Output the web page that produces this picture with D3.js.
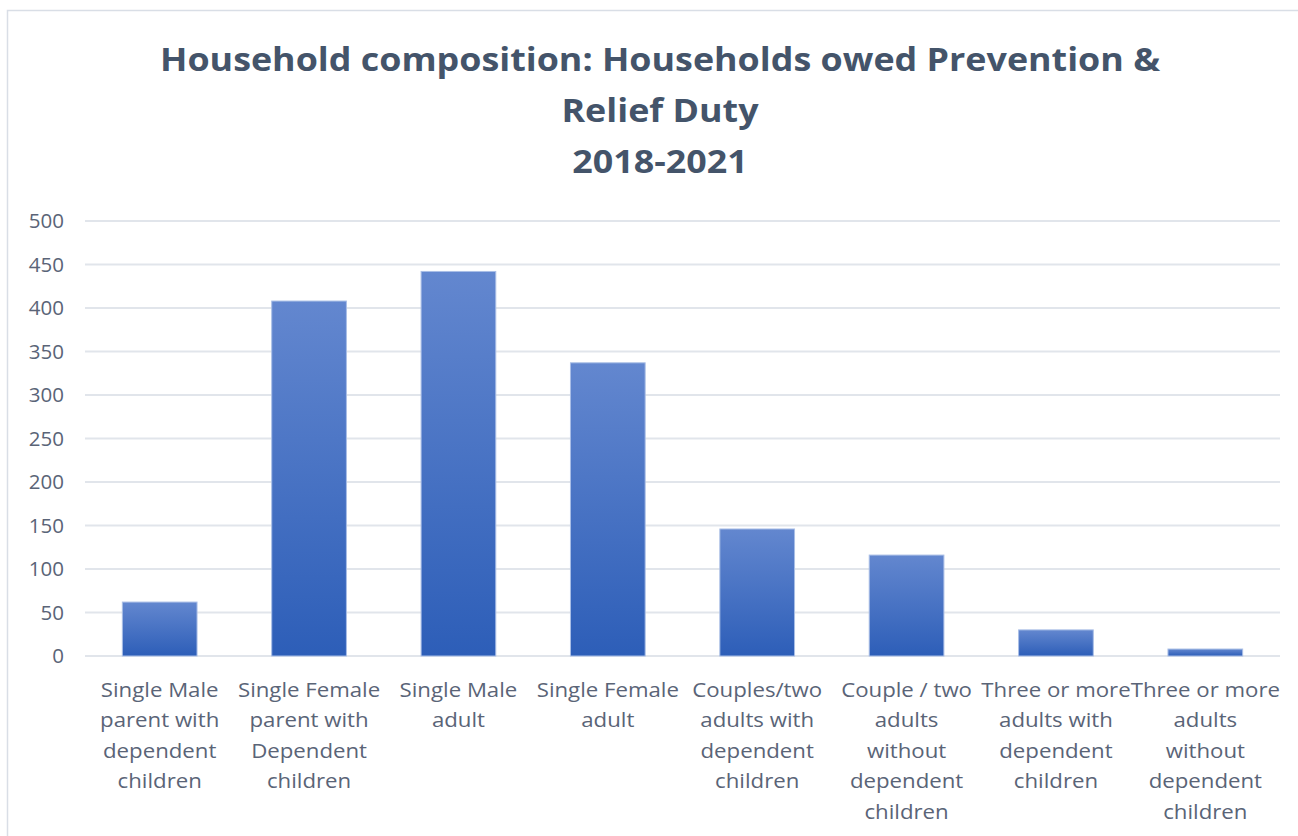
<!DOCTYPE html>
<html>
<head>
<meta charset="utf-8">
<script src="https://cdn.jsdelivr.net/npm/d3@7"></script>
<style>
  html, body { margin: 0; padding: 0; background: #ffffff; }
  svg { display: block; }
</style>
</head>
<body>
<svg id="chart" width="1298" height="836"></svg>
<script>
// Household composition counts, 2018-2021
const categories = [
  ["Single Male", "parent with", "dependent", "children"],
  ["Single Female", "parent with", "Dependent", "children"],
  ["Single Male", "adult"],
  ["Single Female", "adult"],
  ["Couples/two", "adults with", "dependent", "children"],
  ["Couple / two", "adults", "without", "dependent", "children"],
  ["Three or more", "adults with", "dependent", "children"],
  ["Three or more", "adults", "without", "dependent", "children"]
];
const values = [62, 408, 442, 337, 146, 116, 30, 8];
const yTicks = [0, 50, 100, 150, 200, 250, 300, 350, 400, 450, 500];
const titleLines = [
  "Household composition: Households owed Prevention &",
  "Relief Duty",
  "2018-2021"
];

const svg = d3.select("#chart");
const font = "'Open Sans', Lato, sans-serif";

// chart frame
svg.append("rect")
  .attr("x", 7.5).attr("y", 10.5)
  .attr("width", 1300).attr("height", 840)
  .attr("fill", "#ffffff")
  .attr("stroke", "#D9DEE6").attr("stroke-width", 1.5);

// bar gradient
const defs = svg.append("defs");
const grad = defs.append("linearGradient")
  .attr("id", "barGrad").attr("x1", 0).attr("y1", 0).attr("x2", 0).attr("y2", 1);
grad.append("stop").attr("offset", "0%").attr("stop-color", "#6387CF");
grad.append("stop").attr("offset", "100%").attr("stop-color", "#2D5EB8");

const x = d3.scaleBand()
  .domain(d3.range(categories.length))
  .range([85, 1280])
  .paddingInner(0.5).paddingOuter(0.25);
const y = d3.scaleLinear().domain([0, 500]).range([656, 221]);

// gridlines
svg.append("g")
  .selectAll("line")
  .data(yTicks)
  .join("line")
  .attr("x1", 85).attr("x2", 1280)
  .attr("y1", d => y(d)).attr("y2", d => y(d))
  .attr("stroke", "#E1E5EB").attr("stroke-width", 2);

// y axis labels
const yAxis = d3.axisLeft(y).tickValues(yTicks).tickSize(0).tickPadding(0);
const gy = svg.append("g").attr("transform", "translate(64,0)").call(yAxis);
gy.select(".domain").remove();
gy.selectAll("text")
  .attr("font-family", font).attr("font-size", 20.5)
  .attr("fill", "#5A6477");

// bars
svg.append("g")
  .selectAll("rect")
  .data(values)
  .join("rect")
  .attr("x", (d, i) => x(i))
  .attr("width", x.bandwidth())
  .attr("y", d => y(d))
  .attr("height", d => y(0) - y(d))
  .attr("fill", "url(#barGrad)")
  .attr("stroke", "#A9BEE6").attr("stroke-width", 1);

// category labels (slightly widened lettering)
const xAxis = d3.axisBottom(x).tickSize(0).tickFormat("");
const gx = svg.append("g").attr("transform", "translate(0,656)").call(xAxis);
gx.select(".domain").remove();
gx.selectAll(".tick").each(function (i) {
  const t = d3.select(this).append("text")
    .attr("transform", "scale(1.14,1)")
    .attr("text-anchor", "middle")
    .attr("font-family", font).attr("font-size", 19.5)
    .attr("fill", "#5A6477");
  categories[i].forEach((line, k) => {
    t.append("tspan").attr("x", 0).attr("y", 41 + k * 30.5).text(line);
  });
});

// title
svg.append("g")
  .selectAll("text")
  .data(titleLines)
  .join("text")
  .attr("transform", (d, i) => `translate(660,${71 + i * 51}) scale(1.12,1)`)
  .attr("text-anchor", "middle")
  .attr("font-family", font).attr("font-weight", "bold")
  .attr("font-size", 32)
  .attr("fill", "#44546A")
  .text(d => d);
</script>
</body>
</html>
